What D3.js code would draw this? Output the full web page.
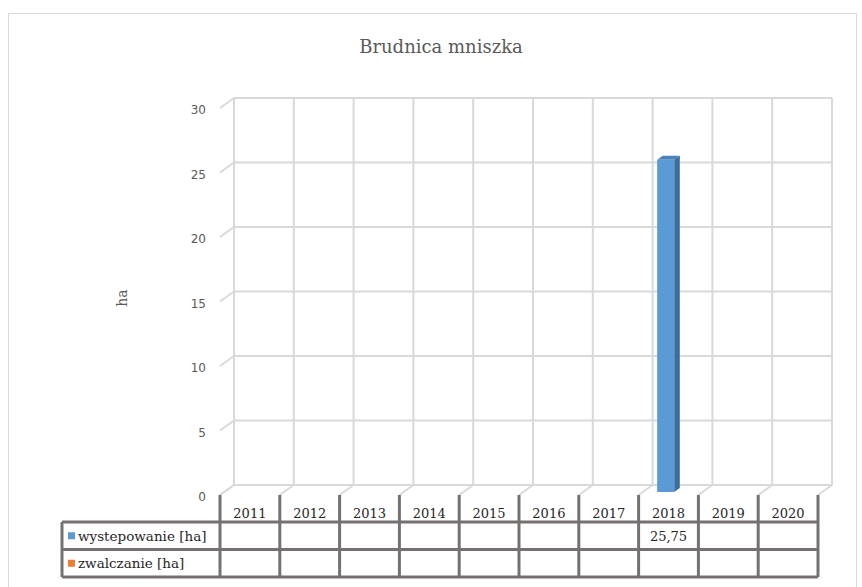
<!DOCTYPE html>
<html><head><meta charset="utf-8">
<script src="https://cdn.jsdelivr.net/npm/d3@7"></script>
<style>body{margin:0;background:#fff}svg{display:block}</style>
</head><body>
<script>
const title = "Brudnica mniszka";
const yTitle = "ha";
const categories = ["2011","2012","2013","2014","2015","2016","2017","2018","2019","2020"];
const seriesNames = ["wystepowanie [ha]", "zwalczanie [ha]"];
const wystepowanie = [null,null,null,null,null,null,null,25.75,null,null];
const zwalczanie = [null,null,null,null,null,null,null,null,null,null];
const yTicks = [0,5,10,15,20,25,30];
const colors = ["#5b9bd5", "#ed7d31"];

const W = 862, H = 587;
const svg = d3.select("body").append("svg").attr("width", W).attr("height", H);
const DX = -14, DY = 10; // depth offset from back wall to front
const serif = "'DejaVu Serif', 'Liberation Serif', serif";
const sans = "'DejaVu Sans', 'Liberation Sans', sans-serif";

// chart frame
svg.append("rect").attr("x", 8.5).attr("y", 13.5).attr("width", 848).attr("height", 600)
  .attr("fill", "#fff").attr("stroke", "#d9d9d9").attr("stroke-width", 1);

const x = d3.scaleBand().domain(categories).range([234, 832]).paddingInner(0).paddingOuter(0);
const y = d3.scaleLinear().domain([0, 30]).range([485, 98]);
const bw = x.bandwidth();

// title
svg.append("text").attr("x", 441).attr("y", 53).attr("text-anchor", "middle")
  .attr("font-family", serif).attr("font-size", 18).attr("fill", "#595959").text(title);

// back wall horizontal gridlines
const grid = svg.append("g").attr("stroke", "#d9d9d9").attr("stroke-width", 2).attr("fill", "none");
yTicks.forEach(t => {
  grid.append("line").attr("x1", x.range()[0]).attr("x2", x.range()[1]).attr("y1", y(t)).attr("y2", y(t));
  grid.append("line").attr("x1", x.range()[0]).attr("x2", x.range()[0] + DX).attr("y1", y(t)).attr("y2", y(t) + DY);
});
// back wall vertical gridlines
const bounds = categories.map(c => x(c)).concat([x.range()[1]]);
bounds.forEach(bx => {
  grid.append("line").attr("x1", bx).attr("x2", bx).attr("y1", y(30)).attr("y2", y(0));
  grid.append("line").attr("x1", bx).attr("x2", bx + DX).attr("y1", y(0)).attr("y2", y(0) + DY);
});

// y tick labels
svg.append("g").selectAll("text").data(yTicks).join("text")
  .attr("x", 206).attr("y", d => y(d) + 12).attr("dy", "0.35em").attr("text-anchor", "end")
  .attr("font-family", sans).attr("font-size", 12).attr("fill", "#595959").text(d => d);

// y axis title
svg.append("text").attr("transform", "translate(127,298) rotate(-90)").attr("text-anchor", "middle")
  .attr("font-family", serif).attr("font-size", 14).attr("fill", "#595959").text(yTitle);

// bars (3D)
const depth = 0.3, thick = 0.4;
const barG = svg.append("g");
wystepowanie.forEach((v, i) => {
  if (v == null) return;
  const c = categories[i];
  const x0 = x(c) + DX + (-DX) * depth + bw * 0.24;
  const by = y(0) + DY - DY * depth;
  const ty = by - (y(0) - y(v));
  const w = bw * 0.285;
  const ox = -DX * thick, oy = -DY * thick;
  // side
  barG.append("path").attr("d", `M${x0 + w},${ty}L${x0 + w + ox},${ty + oy}L${x0 + w + ox},${by + oy}L${x0 + w},${by}Z`).attr("fill", "#3c6d9d");
  // top
  barG.append("path").attr("d", `M${x0},${ty}L${x0 + ox},${ty + oy}L${x0 + w + ox},${ty + oy}L${x0 + w},${ty}Z`).attr("fill", "#4a82bb");
  // front
  barG.append("rect").attr("x", x0).attr("y", ty).attr("width", w).attr("height", by - ty).attr("fill", colors[0]);
});

// data table
const fx1 = x.range()[1] + DX;
const fy = y(0) + DY;
const tableLeft = 62, rowTop = 522, rowH = 27.5;
const tc = "#767171";
const tg = svg.append("g").attr("stroke", tc).attr("stroke-width", 3).attr("fill", "none");
[0, 1, 2].forEach(r => {
  tg.append("line").attr("x1", tableLeft).attr("x2", fx1).attr("y1", rowTop + r * rowH).attr("y2", rowTop + r * rowH);
});
tg.append("line").attr("x1", tableLeft).attr("x2", tableLeft).attr("y1", rowTop).attr("y2", rowTop + 2 * rowH);
bounds.forEach(bx => {
  tg.append("line").attr("x1", bx + DX).attr("x2", bx + DX).attr("y1", fy).attr("y2", rowTop + 2 * rowH);
});
// category labels
svg.append("g").selectAll("text").data(categories).join("text")
  .attr("x", d => x(d) + DX + bw / 2).attr("y", 518).attr("text-anchor", "middle")
  .attr("font-family", serif).attr("font-size", 13).attr("fill", "#262626").text(d => d);
// legend keys + names
[wystepowanie, zwalczanie].forEach((s, r) => {
  const cy = rowTop + r * rowH + rowH / 2;
  svg.append("rect").attr("x", 68).attr("y", cy - 3.5).attr("width", 7).attr("height", 7).attr("fill", colors[r]);
  svg.append("text").attr("x", 78).attr("y", cy + 5).attr("font-family", serif).attr("font-size", 13.5)
    .attr("fill", "#262626").text(seriesNames[r]);
  s.forEach((v, i) => {
    if (v == null) return;
    svg.append("text").attr("x", x(categories[i]) + DX + bw / 2).attr("y", cy + 5).attr("text-anchor", "middle")
      .attr("font-family", serif).attr("font-size", 13).attr("fill", "#262626")
      .text(d3.format(".2f")(v).replace(".", ","));
  });
});
</script>
</body></html>
